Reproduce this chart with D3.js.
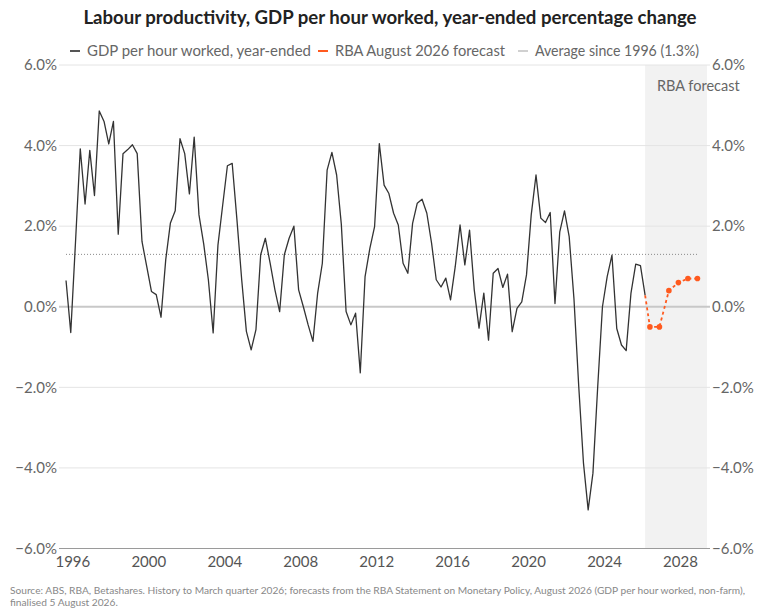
<!DOCTYPE html>
<html>
<head>
<meta charset="utf-8">
<script src="https://cdn.jsdelivr.net/npm/d3@7"></script>
<style>
  body { margin: 0; background: #fff; }
  svg { display: block; font-family: "Lato", "Noto Sans", sans-serif; }
</style>
</head>
<body>
<div id="chart"></div>
<script>
// quarterly history, year-ended % change, Sep 1995 to Mar 2026
var historyStart = "1995-09-01";
var historyValues = [
  0.65, -0.64, 1.6, 3.92, 2.55, 3.88, 2.76, 4.86, 4.6, 4.04,
  4.6, 1.8, 3.8, 3.9, 4.02, 3.8, 1.62, 1.0, 0.38, 0.3,
  -0.26, 1.17, 2.08, 2.38, 4.17, 3.8, 2.8, 4.21, 2.28, 1.56,
  0.67, -0.65, 1.53, 2.52, 3.5, 3.56, 2.15, 0.67, -0.61, -1.07,
  -0.57, 1.29, 1.7, 1.08, 0.42, -0.12, 1.29, 1.7, 2.0, 0.42,
  0.0, -0.45, -0.86, 0.34, 1.08, 3.39, 3.83, 3.27, 2.05, -0.12,
  -0.45, -0.16, -1.64, 0.75, 1.45, 1.99, 4.05, 3.02, 2.81, 2.32,
  2.03, 1.08, 0.83, 2.07, 2.57, 2.67, 2.32, 1.58, 0.67, 0.49,
  0.71, 0.17, 1.0, 2.03, 1.04, 1.9, 0.42, -0.53, 0.34, -0.83,
  0.83, 0.95, 0.48, 0.81, -0.62, -0.04, 0.12, 0.79, 2.28, 3.27,
  2.2, 2.09, 2.34, 0.08, 1.86, 2.38, 1.74, 0.2, -1.98, -3.88,
  -5.04, -4.13, -1.98, 0.0, 0.75, 1.28, -0.54, -0.95, -1.09, 0.33,
  1.06, 1.02, 0.28
];

// RBA August 2026 forecast
var forecastDates = ["2026-06-01", "2026-12-01", "2027-06-01", "2027-12-01", "2028-06-01", "2028-12-01"];
var forecastValues = [-0.5, -0.5, 0.4, 0.6, 0.7, 0.7];

var averageValue = 1.3;
var yTicks = [-6, -4, -2, 0, 2, 4, 6];
var xTickYears = [1996, 2000, 2004, 2008, 2012, 2016, 2020, 2024, 2028];
var legendLabels = ["GDP per hour worked, year-ended", "RBA August 2026 forecast", "Average since 1996 (1.3%)"];

var width = 761, height = 614;
var parse = d3.timeParse("%Y-%m-%d");

var start = parse(historyStart);
var histData = historyValues.map(function(v, i) {
    return { date: d3.timeMonth.offset(start, i * 3), value: v };
});
var fcData = forecastDates.map(function(d, i) {
    return { date: parse(d), value: forecastValues[i] };
});
var lastHist = histData[histData.length - 1];

var svg = d3.select("#chart").append("svg")
    .attr("width", width)
    .attr("height", height);

var x = d3.scaleTime()
    .domain([new Date(1995, 4, 8), new Date(2029, 5, 3)])
    .range([60, 707]);

var y = d3.scaleLinear()
    .domain([-6, 6])
    .range([548.5, 65]);

// forecast shading
svg.append("rect")
    .attr("x", x(lastHist.date))
    .attr("y", y(6))
    .attr("width", x.range()[1] - x(lastHist.date))
    .attr("height", y(-6) - y(6))
    .attr("fill", "#f2f2f2");

// gridlines
svg.append("g")
    .selectAll("line")
    .data(yTicks)
    .enter()
    .append("line")
    .attr("x1", 59)
    .attr("x2", 710)
    .attr("y1", function(d) { return y(d); })
    .attr("y2", function(d) { return y(d); })
    .attr("stroke", function(d) { return d == 0 ? "#c8c8c8" : (d == -6 ? "#9a9a9a" : "#e4e4e4"); })
    .attr("stroke-width", function(d) { return d == 0 ? 2 : 1; });

var fmt = function(d) { return d3.format(".1f")(d).replace("-", "\u2212") + "%"; };

// left and right axes
var yLeft = svg.append("g")
    .attr("transform", "translate(58,0)")
    .call(d3.axisLeft(y).tickValues(yTicks).tickSize(0).tickPadding(1).tickFormat(fmt));
var yRight = svg.append("g")
    .attr("transform", "translate(711,0)")
    .call(d3.axisRight(y).tickValues(yTicks).tickSize(0).tickPadding(1).tickFormat(fmt));
[yLeft, yRight].forEach(function(a) {
    a.select(".domain").remove();
    a.selectAll("text")
        .attr("fill", "#666")
        .style("font-size", "15px")
        .style("font-family", "Lato, sans-serif");
});

// x axis
var xAxis = svg.append("g")
    .attr("transform", "translate(0," + y(-6) + ")")
    .call(d3.axisBottom(x)
        .tickValues(xTickYears.map(function(yr) { return new Date(yr, 0, 1); }))
        .tickSize(0)
        .tickPadding(8)
        .tickFormat(d3.timeFormat("%Y")));
xAxis.select(".domain").remove();
xAxis.selectAll("text")
    .attr("fill", "#555")
    .style("font-size", "15px")
    .style("font-family", "Lato, sans-serif");

// average line
svg.append("line")
    .attr("x1", x(histData[0].date))
    .attr("x2", x(fcData[fcData.length - 1].date))
    .attr("y1", y(averageValue))
    .attr("y2", y(averageValue))
    .attr("stroke", "#888")
    .attr("stroke-width", 1)
    .attr("stroke-dasharray", "1,2");

var line = d3.line()
    .x(function(d) { return x(d.date); })
    .y(function(d) { return y(d.value); });

// history line
svg.append("path")
    .datum(histData)
    .attr("fill", "none")
    .attr("stroke", "#333")
    .attr("stroke-width", 1.3)
    .attr("stroke-linejoin", "round")
    .attr("d", line);

// forecast line
svg.append("path")
    .datum([lastHist].concat(fcData))
    .attr("fill", "none")
    .attr("stroke", "#ff5a1f")
    .attr("stroke-width", 1.8)
    .attr("stroke-dasharray", "3,3")
    .attr("d", line);

svg.append("g")
    .selectAll("circle")
    .data(fcData)
    .enter()
    .append("circle")
    .attr("cx", function(d) { return x(d.date); })
    .attr("cy", function(d) { return y(d.value); })
    .attr("r", 2.8)
    .attr("fill", "#ff5a1f");

svg.append("text")
    .attr("x", 657)
    .attr("y", 91)
    .attr("fill", "#666")
    .style("font-size", "14.5px")
    .text("RBA forecast");

// title
svg.append("text")
    .attr("x", 390)
    .attr("y", 24)
    .attr("text-anchor", "middle")
    .attr("fill", "#222")
    .style("font-size", "18.6px")
    .style("font-weight", "700")
    .text("Labour productivity, GDP per hour worked, year-ended percentage change");

// legend
var legendColors = ["#555", "#ff5a1f", "#d0d0d0"];
var legendX = [70, 318, 518];
var legendW = [224, 170, 164];
var legend = svg.append("g");
legendLabels.forEach(function(lbl, i) {
    legend.append("line")
        .attr("x1", legendX[i])
        .attr("x2", legendX[i] + 10)
        .attr("y1", 51)
        .attr("y2", 51)
        .attr("stroke", legendColors[i])
        .attr("stroke-width", 2);
    legend.append("text")
        .attr("x", legendX[i] + 17)
        .attr("y", 56)
        .attr("fill", "#666")
        .attr("textLength", legendW[i])
        .attr("lengthAdjust", "spacingAndGlyphs")
        .style("font-size", "14.5px")
        .text(lbl);
});

// footer
var footer = svg.append("text")
    .attr("x", 10)
    .attr("y", 594)
    .attr("fill", "#888")
    .style("font-size", "10.2px");
footer.append("tspan")
    .attr("x", 10)
    .attr("textLength", 735)
    .attr("lengthAdjust", "spacingAndGlyphs")
    .text("Source: ABS, RBA, Betashares. History to March quarter 2026; forecasts from the RBA Statement on Monetary Policy, August 2026 (GDP per hour worked, non-farm),");
footer.append("tspan")
    .attr("x", 10)
    .attr("dy", 12)
    .text("finalised 5 August 2026.");
</script>
</body>
</html>
